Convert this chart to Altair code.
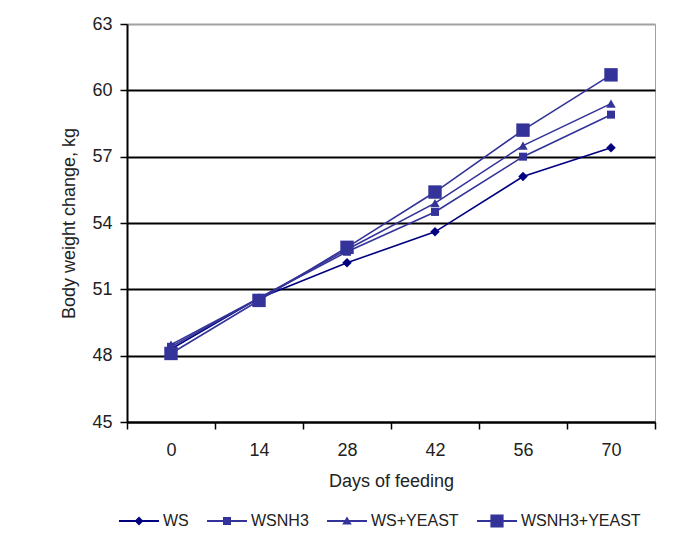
import altair as alt
import pandas as pd

days = [0, 14, 28, 42, 56, 70]
series_names = ["WS", "WSNH3", "WS+YEAST", "WSNH3+YEAST"]
ws = [48.3, 50.6, 52.2, 53.6, 56.1, 57.4]
wsnh3 = [48.4, 50.6, 52.7, 54.5, 57.0, 58.9]
ws_yeast = [48.5, 50.6, 52.8, 54.9, 57.5, 59.4]
wsnh3_yeast = [48.1, 50.5, 52.9, 55.4, 58.2, 60.7]
y_ticks = [45, 48, 51, 54, 57, 60, 63]

colors = ["#000080", "#333399", "#333399", "#333399"]
marker_shapes = ["diamond", "square", "triangle-up", "square"]
marker_sizes = [90, 64, 90, 180]
line_part = "M-1,-0.05H1V0.05H-1Z "
legend_paths = [
    line_part + "M0,-0.22L0.22,0L0,0.22L-0.22,0Z",
    line_part + "M-0.2,-0.2H0.2V0.2H-0.2Z",
    line_part + "M0,-0.22L0.24,0.18H-0.24Z",
    line_part + "M-0.33,-0.33H0.33V0.33H-0.33Z",
]

rows = []
for name, vals in zip(series_names, [ws, wsnh3, ws_yeast, wsnh3_yeast]):
    for d, v in zip(days, vals):
        rows.append({"day": d, "value": v, "series": name})
df = pd.DataFrame(rows)

FONT = "Liberation Sans"
TXT = "#222222"

x_enc = alt.X(
    "day:O",
    scale=alt.Scale(domain=days, paddingInner=0, paddingOuter=0),
    axis=alt.Axis(
        title="Days of feeding", labelAngle=0, tickBand="extent", grid=False,
        tickSize=7, labelPadding=12, titlePadding=13,
    ),
)
y_enc = alt.Y(
    "value:Q",
    scale=alt.Scale(domain=[45, 63], nice=False, zero=False),
    axis=alt.Axis(
        values=y_ticks, title="Body weight change, kg", grid=True,
        gridColor={"condition": {"test": "datum.value === 63", "value": "#a0a0a0"}, "value": "black"},
        tickSize=7, labelPadding=8, titlePadding=13,
    ),
)

base = alt.Chart(df).encode(x=x_enc, y=y_enc)

layers = []
for n, c in zip(series_names, colors):
    layers.append(
        base.mark_line(strokeWidth=1.6, color=c).transform_filter(alt.datum.series == n)
    )
for n, c, s, sz in zip(series_names, colors, marker_shapes, marker_sizes):
    layers.append(
        base.mark_point(filled=True, opacity=1, color=c, shape=s, size=sz)
        .transform_filter(alt.datum.series == n)
    )

leg = alt.Legend(
    title=None, orient="none", legendX=-8, legendY=477, direction="horizontal",
    symbolSize=1600, symbolStrokeWidth=0, symbolOpacity=1, labelFontSize=16,
    labelFont=FONT, labelColor=TXT, columnPadding=18, labelOffset=4,
)
legend_layer = base.mark_point(filled=True, opacity=0).encode(
    color=alt.Color("series:N", scale=alt.Scale(domain=series_names, range=colors), legend=leg),
    shape=alt.Shape("series:N", scale=alt.Scale(domain=series_names, range=legend_paths), legend=leg),
)
layers.append(legend_layer)

chart = (
    alt.layer(*layers)
    .properties(
        width=528, height=398,
        autosize=alt.AutoSizeParams(type="none"),
        padding={"left": 119, "top": 16, "right": 31, "bottom": 112},
    )
    .configure_view(stroke="#a0a0a0", strokeWidth=1)
    .configure_axis(
        domainColor="black", domainWidth=2, tickColor="black", tickWidth=1.5,
        gridWidth=2, labelFont=FONT, labelFontSize=18, labelColor=TXT,
        titleFont=FONT, titleFontSize=18, titleFontWeight="normal", titleColor=TXT,
    )
)

chart.save("out.html", embed_options={"renderer": "svg", "actions": False})
